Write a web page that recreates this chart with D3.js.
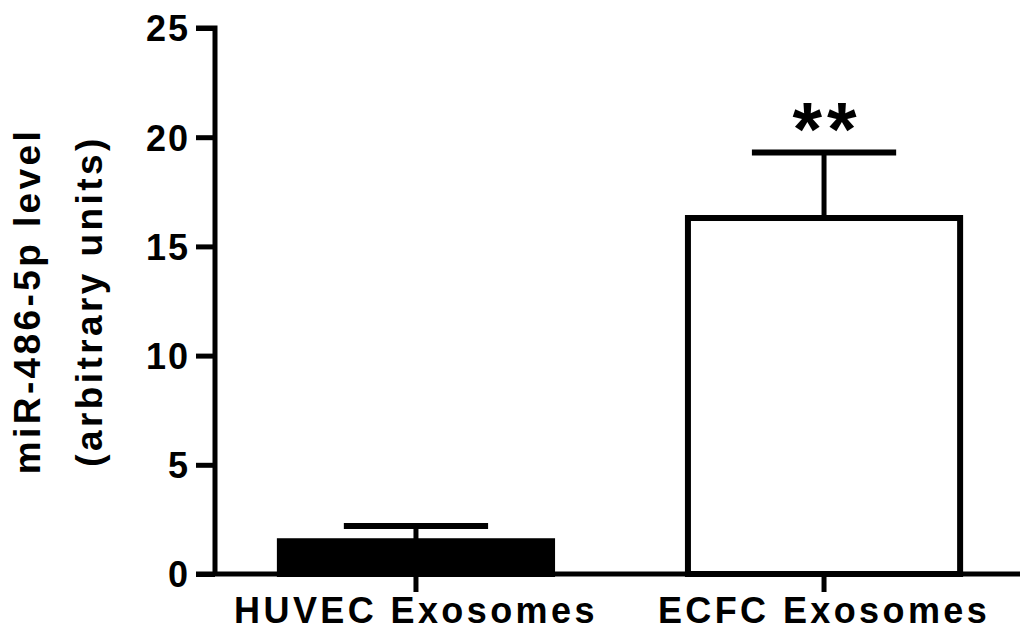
<!DOCTYPE html>
<html>
<head>
<meta charset="utf-8">
<script src="https://cdn.jsdelivr.net/npm/d3@7"></script>
<style>
  html, body { margin: 0; padding: 0; background: #fff; }
  svg { display: block; }
  text { font-family: "Liberation Sans", Arial, sans-serif; font-weight: bold; fill: #000; }
</style>
</head>
<body>
<svg id="chart" width="1020" height="635"></svg>
<script>
// Groups and measured levels (mean and mean + SEM)
const categories = ["HUVEC Exosomes", "ECFC Exosomes"];
const means = [1.5, 16.3];
const errorTops = [2.2, 19.3];
const fills = ["#000", "#fff"];
const significance = ["", "**"];
const yTicks = [0, 5, 10, 15, 20, 25];
const yLabelLines = ["miR-486-5p level", "(arbitrary units)"];

const svg = d3.select("#chart");
const axisX = 215, baseY = 574, topY = 28;

const y = d3.scaleLinear().domain([0, 25]).range([baseY, topY]);
const x = d3.scaleBand().domain(categories)
  .range([axisX, 1025]).paddingInner(0.333).paddingOuter(0.159);

// Bars
const bars = svg.append("g");
categories.forEach((c, i) => {
  bars.append("rect")
    .attr("x", x(c))
    .attr("y", y(means[i]))
    .attr("width", x.bandwidth())
    .attr("height", y(0) - y(means[i]))
    .attr("fill", fills[i])
    .attr("stroke", "#000")
    .attr("stroke-width", 6);
});

// Error bars (upper only) with significance stars above
const capW = x.bandwidth() * 0.53;
categories.forEach((c, i) => {
  const cx = x(c) + x.bandwidth() / 2;
  bars.append("line")
    .attr("x1", cx).attr("x2", cx)
    .attr("y1", y(means[i])).attr("y2", y(errorTops[i]))
    .attr("stroke", "#000").attr("stroke-width", 5);
  bars.append("line")
    .attr("x1", cx - capW / 2).attr("x2", cx + capW / 2)
    .attr("y1", y(errorTops[i])).attr("y2", y(errorTops[i]))
    .attr("stroke", "#000").attr("stroke-width", 6);
  if (significance[i]) {
    bars.append("text")
      .attr("x", cx + 3)
      .attr("y", y(errorTops[i]) + 3)
      .attr("text-anchor", "middle")
      .attr("font-size", 76)
      .attr("letter-spacing", 5)
      .text(significance[i]);
  }
});

// Y axis
const yAxis = d3.axisLeft(y).tickValues(yTicks).tickSize(19).tickPadding(6);
const gy = svg.append("g").attr("transform", `translate(${axisX},0)`).call(yAxis);
gy.select(".domain").attr("d", `M-19,${topY}H0V${baseY}`)
  .attr("stroke", "#000").attr("stroke-width", 5).attr("fill", "none");
gy.selectAll(".tick line").attr("stroke", "#000").attr("stroke-width", 5);
gy.selectAll(".tick text")
  .attr("font-size", 36).attr("letter-spacing", 2)
  .attr("font-family", "'Liberation Sans', Arial, sans-serif")
  .attr("font-weight", "bold").attr("fill", "#000")
  .attr("dy", "0.36em");

// X axis
const xAxis = d3.axisBottom(x).tickSize(18).tickPadding(8);
const gx = svg.append("g").attr("transform", `translate(0,${baseY})`).call(xAxis);
gx.select(".domain").attr("d", `M${axisX - 19},0H1020`)
  .attr("stroke", "#000").attr("stroke-width", 5).attr("fill", "none");
gx.selectAll(".tick line").attr("stroke", "#000").attr("stroke-width", 5);
gx.selectAll(".tick text")
  .attr("font-size", 36).attr("letter-spacing", 3.4)
  .attr("font-family", "'Liberation Sans', Arial, sans-serif")
  .attr("font-weight", "bold").attr("fill", "#000")
  .attr("y", 49).attr("dy", 0);

// Y axis title, two lines
const midY = (baseY + topY) / 2;
const lineX = [40, 102];
yLabelLines.forEach((t, i) => {
  svg.append("text")
    .attr("transform", `translate(${lineX[i]},${midY}) rotate(-90)`)
    .attr("text-anchor", "middle")
    .attr("font-size", 37)
    .attr("letter-spacing", 3.4)
    .text(t);
});
</script>
</body>
</html>
